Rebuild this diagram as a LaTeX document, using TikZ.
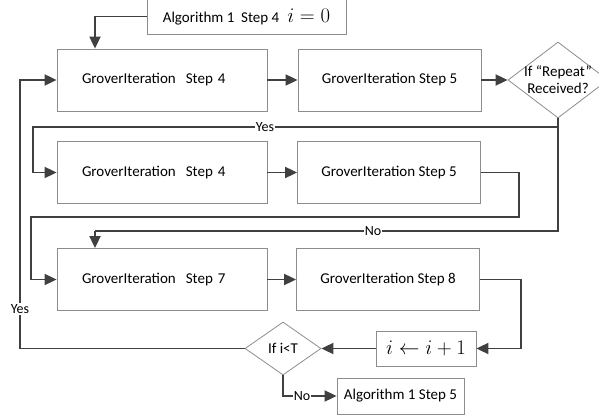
\documentclass[tikz,border=0pt]{standalone}
\usepackage{fontspec}
\setmainfont{Carlito}
\usetikzlibrary{arrows.meta,shapes.geometric}
\definecolor{boxgray}{HTML}{8C8C8C}
\definecolor{linegray}{HTML}{404040}
\begin{document}
\begin{tikzpicture}[x=1pt,y=-1pt,
  box/.style={draw=boxgray,line width=0.8pt,rectangle,inner ysep=0pt,inner xsep=0pt,
    font=\fontsize{15}{18}\selectfont,text=black},
  lbox/.style={box,align=left,text width=160pt,inner xsep=25pt,minimum width=210pt,minimum height=62pt},
  rbox/.style={box,minimum width=183pt,minimum height=62pt},
  dec/.style={draw=boxgray,line width=0.8pt,diamond,inner sep=0pt,
    label={[font=\fontsize{15}{17}\selectfont,align=center]center:#1}},
  conn/.style={draw=linegray,line width=1.8pt,-{Triangle[length=12pt,width=11pt]}},
  line/.style={draw=linegray,line width=1.8pt},
  lbl/.style={fill=white,inner sep=1pt,font=\fontsize{14}{16}\selectfont}
]
\useasboundingbox (0,0) rectangle (599,419);

% nodes
\node[box,minimum width=199pt,minimum height=35pt] (top) at (246.5,16.5)
  {Algorithm 1\ \ Step 4\hspace{8pt}{\fontsize{22}{24}\selectfont$i=0$}};
\node[lbox] (A) at (162,80) {GroverIteration\ \ Step 4};
\node[rbox] (B) at (389.5,80) {GroverIteration Step 5};
\node[dec={If “Repeat”\\Received?},minimum width=100pt,minimum height=76pt] (d1) at (558,80) {};
\node[lbox] (C) at (162,172.5) {GroverIteration\ \ Step 4};
\node[rbox] (D) at (389,172.5) {GroverIteration Step 5};
\node[lbox] (E) at (162,279.5) {GroverIteration\ \ Step 7};
\node[rbox] (F) at (388,279.5) {GroverIteration Step 8};
\node[box,minimum width=100pt,minimum height=35pt] (G) at (426,348.5)
  {\fontsize{22}{24}\selectfont$i\leftarrow i+1$};
\node[dec={If i<T},minimum width=76pt,minimum height=53pt] (d2) at (283,348.5) {};
\node[box,minimum width=127pt,minimum height=36pt] (H) at (400.5,396) {Algorithm 1 Step 5};

% helper coordinates
\coordinate (a1) at (95,49);
\coordinate (y1) at (33,127);
\coordinate (n1) at (95,231);
\coordinate (r1) at (519,217);
\coordinate (l1) at (31,217);
\coordinate (r2) at (521,348.5);
\coordinate (yl) at (20,348.5);

% connectors
\draw[conn] (top.west) -| (A.north -| a1);
\draw[conn] (A.east) -- (B.west);
\draw[conn] (B.east) -- (d1.west);
\draw[conn] (d1.south) |- (y1) |- (C.west);
\draw[line] (d1.south) |- (n1);
\draw[conn] (n1) -- (E.north -| n1);
\node[lbl] (yes1) at (265,127) {Yes};
\node[lbl] (no1) at (373,231) {No};
\draw[conn] (C.east) -- (D.west);
\draw[conn] (D.east) -| (r1) -- (l1) |- (E.west);
\draw[conn] (E.east) -- (F.west);
\draw[conn] (F.east) -| (r2) -- (G.east);
\draw[conn] (G.west) -- (d2.east);
\draw[conn] (d2.west) -- (yl) |- (A.west);
\node[lbl] (yes2) at (20,309) {Yes};
\draw[conn] (d2.south) |- (H.west);
\node[lbl] (no2) at (302,396.5) {No};
\end{tikzpicture}
\end{document}
